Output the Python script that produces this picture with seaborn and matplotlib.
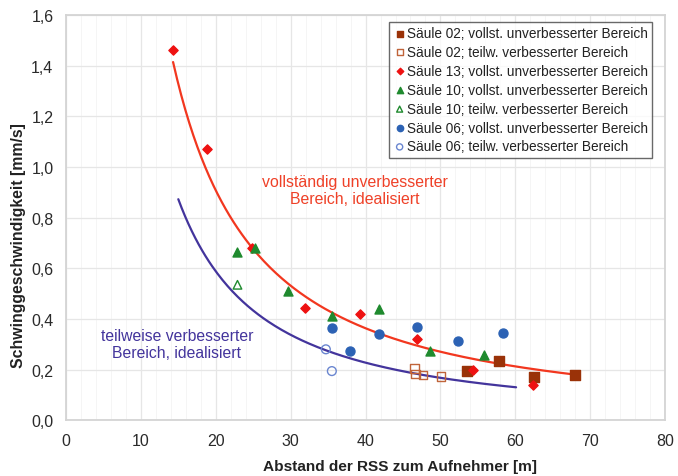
import numpy as np
import pandas as pd
import matplotlib
matplotlib.use("Agg")
import matplotlib.pyplot as plt
from matplotlib.ticker import MultipleLocator, FuncFormatter
import seaborn as sns

# Measured vibration velocities vs. distance (x in m, y in mm/s)
s02_voll_x = [53.5, 57.8, 62.5, 68.0]
s02_voll_y = [0.195, 0.233, 0.172, 0.180]
s02_teil_x = [46.5, 46.7, 47.7, 50.1]
s02_teil_y = [0.205, 0.182, 0.178, 0.172]
s13_voll_x = [14.3, 18.8, 24.8, 31.9, 39.3, 46.9, 54.3, 62.3]
s13_voll_y = [1.462, 1.072, 0.682, 0.445, 0.419, 0.322, 0.200, 0.138]
s10_voll_x = [22.8, 25.2, 29.6, 35.5, 41.8, 48.6, 55.8]
s10_voll_y = [0.664, 0.680, 0.510, 0.413, 0.440, 0.273, 0.258]
s10_teil_x = [22.9]
s10_teil_y = [0.535]
s06_voll_x = [35.5, 37.9, 41.8, 46.9, 52.3, 58.4]
s06_voll_y = [0.366, 0.273, 0.340, 0.368, 0.311, 0.346]
s06_teil_x = [34.7, 35.5]
s06_teil_y = [0.280, 0.194]

# Idealised power-law envelopes y = y0 * (x / x0) ** (-b)
red_x0, red_y0, red_b, red_xend = 14.3, 1.415, 1.322, 68.0
blue_x0, blue_y0, blue_b, blue_xend = 15.0, 0.873, 1.372, 60.1

labels = [
    "Säule 02; vollst. unverbesserter Bereich",
    "Säule 02; teilw. verbesserter Bereich",
    "Säule 13; vollst. unverbesserter Bereich",
    "Säule 10; vollst. unverbesserter Bereich",
    "Säule 10; teilw. verbesserter Bereich",
    "Säule 06; vollst. unverbesserter Bereich",
    "Säule 06; teilw. verbesserter Bereich",
]

sns.set_style("white")
plt.rcParams["font.family"] = ["Liberation Sans", "DejaVu Sans"]

fig = plt.figure(figsize=(6.78, 4.77), dpi=100)
ax = fig.add_axes([0.0973, 0.117, 0.8837, 0.849])

brown = "#9a3208"
red = "#ee1111"
green = "#1f8a2e"
blue = "#2c62b4"
curve_red = "#f2371f"
curve_blue = "#43349c"

def power(x0, y0, b, xend):
    xs = np.linspace(x0, xend, 200)
    return pd.DataFrame({"x": xs, "y": y0 * (xs / x0) ** (-b)})

rc = power(red_x0, red_y0, red_b, red_xend)
bc = power(blue_x0, blue_y0, blue_b, blue_xend)
sns.lineplot(data=rc, x="x", y="y", color=curve_red, lw=1.6, ax=ax, zorder=2)
sns.lineplot(data=bc, x="x", y="y", color=curve_blue, lw=1.6, ax=ax, zorder=2)

series = [
    (s02_voll_x, s02_voll_y, "s", brown, brown, 42),
    (s02_teil_x, s02_teil_y, "s", "none", "#c0643a", 38),
    (s13_voll_x, s13_voll_y, "D", red, red, 22),
    (s10_voll_x, s10_voll_y, "^", green, green, 42),
    (s10_teil_x, s10_teil_y, "^", "none", green, 38),
    (s06_voll_x, s06_voll_y, "o", blue, blue, 42),
    (s06_teil_x, s06_teil_y, "o", "none", "#6a86d0", 40),
]
for (xs, ys, m, fc, ec, s), lab in zip(series, labels):
    df = pd.DataFrame({"x": xs, "y": ys})
    sns.scatterplot(data=df, x="x", y="y", marker=m, s=s, facecolor=fc,
                    edgecolor=ec, linewidth=1.0, label=lab, ax=ax, zorder=3)

ax.set_xlim(0, 80)
ax.set_ylim(0, 1.6)
ax.xaxis.set_major_locator(MultipleLocator(10))
ax.xaxis.set_minor_locator(MultipleLocator(2))
ax.yaxis.set_major_locator(MultipleLocator(0.2))
ax.yaxis.set_major_formatter(FuncFormatter(lambda v, p: f"{v:.1f}".replace(".", ",")))
ax.grid(which="major", color="#e6e6e6", lw=0.9)
ax.grid(which="minor", axis="x", color="#f5f5f5", lw=0.7)
ax.set_axisbelow(True)
for sp in ax.spines.values():
    sp.set_color("#d4d4d4")
    sp.set_linewidth(1.3)
ax.tick_params(axis="both", which="major", length=4, color="#d4d4d4",
               labelsize=11.5, labelcolor="#2a2a2a", pad=5)
ax.tick_params(which="minor", length=0)

ax.set_xlabel("Abstand der RSS zum Aufnehmer [m]", fontsize=11.1,
              fontweight="bold", color="#222222")
ax.set_ylabel("Schwinggeschwindigkeit [mm/s]", fontsize=11.4,
              fontweight="bold", color="#222222")
ax.xaxis.set_label_coords(0.557, -0.097)
ax.yaxis.set_label_coords(-0.066, 0.433)

ax.text(38.6, 0.91, "vollständig unverbesserter\nBereich, idealisiert",
        color="#ef4128", fontsize=11.4, ha="center", va="center", linespacing=1.15)
ax.text(14.8, 0.30, "teilweise verbesserter\nBereich, idealisiert",
        color=curve_blue, fontsize=11.3, ha="center", va="center", linespacing=1.15)

leg = ax.legend(loc="upper right", bbox_to_anchor=(0.983, 0.99), fontsize=9.8,
                frameon=True, fancybox=False, edgecolor="#444444",
                borderpad=0.3, labelspacing=0.36, handletextpad=0.05,
                handlelength=1.0, borderaxespad=0.2, markerscale=0.7)
leg.get_frame().set_linewidth(1.0)
for t in leg.get_texts():
    t.set_color("#222222")

fig.savefig("out.png", dpi=100)
